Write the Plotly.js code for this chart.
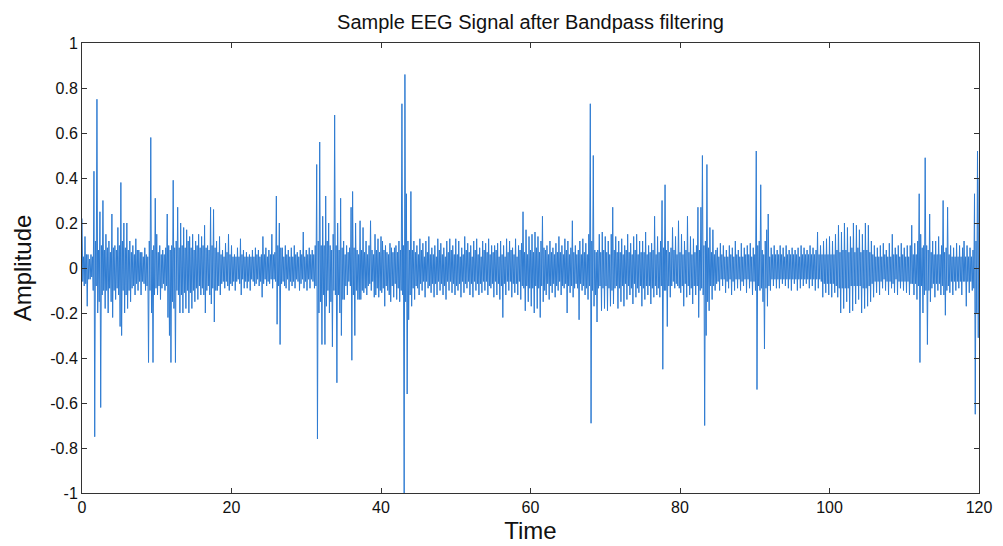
<!DOCTYPE html>
<html>
<head>
<meta charset="utf-8">
<script src="https://cdn.plot.ly/plotly-3.0.1.min.js"></script>
<style>html,body{margin:0;padding:0;background:#fff;}#chart{width:1003px;height:546px;}</style>
</head>
<body>
<div id="chart"></div>
<script>
// Sampling step of the read-off signal (seconds)
const sampleStep = 0.1;
// Amplitude, in hundredths, one row per second (10 samples per row)
const amplitudeHundredths = [
  22,-6,5,-8,14,-7,6,-17,6,-5,
  4,-5,6,-4,5,-10,43,-75,12,-8,
  75,-20,8,-15,25,-62,10,-12,30,-10,
  8,-18,15,-10,9,-20,12,-9,7,-15,
  24,-22,9,-10,10,-14,8,-9,18,-12,
  10,-26,38,-30,12,-10,20,-20,9,-12,
  20,-18,8,-10,12,-15,7,-9,10,-8,
  6,-12,13,-7,8,-10,8,-6,7,-12,
  7,-6,5,-7,9,-10,6,-8,5,-42,
  12,-10,58,-20,8,-42,10,-12,31,-9,
  15,-12,7,-8,10,-14,6,-9,8,-7,
  6,-10,9,-8,24,-22,10,-30,8,-42,
  10,-15,39,-18,9,-42,12,-10,27,-12,
  9,-20,20,-12,10,-20,18,-11,9,-18,
  17,-10,12,-20,14,-11,9,-18,15,-10,
  8,-15,12,-9,10,-14,15,-8,9,-12,
  14,-9,10,-12,19,-20,9,-10,10,-8,
  8,-12,27,-16,10,-9,26,-24,9,-10,
  12,-10,7,-8,14,-12,6,-7,8,-6,
  5,-9,11,-6,7,-8,15,-10,6,-7,
  10,-8,5,-6,6,-10,5,-6,9,-5,
  5,-7,13,-12,6,-5,8,-9,5,-6,
  7,-9,5,-6,6,-10,5,-5,8,-6,
  5,-8,9,-7,6,-5,8,-8,5,-6,
  6,-13,14,-7,6,-5,9,-8,5,-6,
  8,-7,6,-5,15,-9,6,-5,7,-6,
  32,-25,10,-8,20,-34,9,-7,9,-6,
  5,-8,10,-9,6,-5,8,-10,5,-6,
  9,-8,5,-6,10,-9,6,-5,7,-6,
  5,-10,8,-7,6,-5,16,-9,5,-6,
  8,-10,6,-5,9,-9,6,-5,8,-6,
  6,-9,10,-8,46,-76,12,-20,56,-15,
  10,-34,23,-12,10,-34,32,-17,12,-10,
  20,-20,10,-15,8,-35,15,-10,68,-12,
  10,-51,20,-12,8,-20,31,-30,9,-14,
  12,-14,6,-8,10,-12,7,-6,9,-8,
  27,-41,34,-12,9,-30,20,-10,8,-14,
  6,-14,21,-14,8,-10,18,-11,7,-9,
  12,-12,6,-8,10,-7,21,-10,8,-6,
  6,-13,15,-12,8,-9,13,-13,7,-10,
  14,-11,12,-9,8,-17,10,-8,7,-10,
  6,-12,11,-15,9,-8,7,-13,9,-7,
  10,-14,7,-9,12,-15,8,-10,73,-12,
  10,-105,86,-15,33,-56,12,-23,8,-12,
  34,-17,8,-9,12,-14,7,-8,10,-9,
  6,-12,13,-7,8,-10,11,-6,5,-13,
  12,-6,7,-9,14,-8,6,-11,9,-7,
  6,-13,10,-7,5,-12,13,-6,8,-10,
  11,-7,6,-12,9,-8,5,-14,12,-6,
  7,-10,13,-6,8,-11,10,-7,6,-12,
  13,-8,6,-10,12,-7,5,-13,9,-6,
  6,-11,14,-7,8,-9,11,-6,7,-12,
  10,-7,5,-13,12,-6,8,-10,13,-7,
  6,-12,9,-7,5,-11,12,-6,8,-10,
  11,-6,7,-12,13,-8,6,-9,10,-7,
  7,-13,10,-6,8,-12,11,-7,5,-14,
  12,-8,6,-22,10,-7,5,-12,13,-6,
  7,-10,12,-6,8,-13,9,-7,6,-11,
  13,-7,5,-12,10,-6,8,-14,11,-8,
  25,-9,7,-19,17,-8,6,-15,14,-9,
  8,-17,15,-9,7,-20,16,-8,9,-18,
  14,-9,7,-22,12,-8,23,-15,9,-10,
  8,-12,10,-7,6,-14,12,-8,7,-11,
  9,-7,6,-13,11,-8,7,-10,14,-6,
  7,-12,10,-8,6,-9,13,-7,8,-20,
  12,-8,6,-11,9,-8,21,-13,7,-9,
  10,-7,6,-9,8,-23,12,-7,6,-10,
  13,-8,7,-12,11,-9,6,-14,15,-8,
  73,-69,12,-10,50,-17,8,-12,7,-24,
  8,-9,15,-8,7,-19,16,-9,8,-18,
  14,-8,7,-19,12,-9,6,-17,15,-10,
  27,-16,8,-9,14,-8,7,-18,12,-9,
  7,-15,13,-8,6,-17,10,-7,8,-14,
  15,-8,7,-12,11,-9,6,-16,14,-7,
  8,-13,15,-9,6,-11,12,-8,7,-17,
  12,-9,7,-14,16,-8,6,-12,10,-8,
  7,-16,11,-9,8,-13,23,-8,6,-12,
  14,-9,7,-13,12,-8,30,-45,9,-10,
  37,-10,8,-26,12,-8,7,-13,9,-8,
  18,-6,8,-9,14,-7,6,-8,21,-9,
  7,-11,15,-8,6,-17,12,-7,8,-13,
  23,-8,7,-12,14,-9,6,-16,13,-8,
  7,-12,10,-8,27,-22,8,-10,27,-9,
  50,-12,10,-70,12,-30,46,-15,9,-19,
  18,-8,7,-14,17,-8,6,-10,8,-7,
  9,-6,5,-10,11,-5,6,-8,10,-5,
  5,-11,8,-6,5,-9,10,-5,6,-12,
  9,-6,5,-10,12,-5,6,-9,8,-5,
  5,-10,11,-6,5,-8,9,-5,6,-11,
  10,-5,6,-9,11,-6,5,-12,9,-6,
  6,-10,52,-54,10,-8,12,-10,37,-9,
  8,-15,6,-36,12,-9,17,-17,24,-8,
  5,-10,9,-5,6,-8,10,-5,6,-9,
  8,-5,6,-9,10,-5,6,-7,9,-5,
  5,-8,10,-5,6,-9,8,-5,6,-10,
  9,-5,6,-7,8,-5,6,-10,9,-5,
  5,-9,10,-5,6,-8,9,-5,6,-7,
  8,-5,6,-9,10,-5,6,-8,9,-5,
  6,-10,8,-5,16,-9,6,-5,10,-6,
  6,-13,12,-7,6,-11,13,-7,6,-12,
  14,-7,6,-13,12,-7,6,-11,15,-8,
  8,-13,19,-9,7,-20,16,-9,8,-18,
  20,-9,8,-15,18,-9,7,-20,14,-8,
  9,-19,20,-8,7,-16,19,-8,9,-14,
  17,-8,7,-20,15,-9,8,-18,20,-9,
  8,-17,19,-8,7,-15,12,-7,6,-13,
  10,-6,5,-11,9,-6,5,-12,10,-6,
  5,-9,11,-5,6,-10,8,-6,5,-12,
  11,-6,5,-9,15,-7,6,-11,9,-5,
  6,-12,10,-6,5,-9,11,-6,6,-10,
  9,-6,5,-11,10,-6,5,-12,10,-7,
  19,-7,6,-12,11,-7,6,-14,12,-8,
  33,-42,15,-8,9,-20,10,-12,49,-10,
  10,-34,8,-10,24,-15,7,-9,12,-7,
  6,-13,12,-7,6,-10,14,-7,6,-12,
  10,-8,30,-12,7,-21,9,-10,27,-8,
  6,-11,10,-6,5,-12,9,-6,5,-10,
  11,-6,5,-9,10,-6,5,-12,9,-6,
  12,-6,5,-17,10,-6,5,-11,9,-6,
  5,-10,8,-9,33,-65,12,-20,52,-31,
  40
];
const xTickVals = [0, 20, 40, 60, 80, 100, 120];
const xTickText = ["0", "20", "40", "60", "80", "100", "120"];
const yTickVals = [1, 0.8, 0.6, 0.4, 0.2, 0, -0.2, -0.4, -0.6, -0.8, -1];
const yTickText = ["1", "0.8", "0.6", "0.4", "0.2", "0", "-0.2", "-0.4", "-0.6", "-0.8", "-1"];
const chartTitle = "Sample EEG Signal after Bandpass filtering";
const xLabel = "Time";
const yLabel = "Amplitude";

const time = amplitudeHundredths.map((_, i) => +(i * sampleStep).toFixed(2));
const amplitude = amplitudeHundredths.map(v => v / 100);

const font = "Liberation Sans, Arial, Helvetica, sans-serif";
const axisCommon = {
  showline: true, mirror: "ticks", linecolor: "#333", linewidth: 1,
  ticks: "inside", ticklen: 5, tickcolor: "#333", tickwidth: 1,
  showgrid: false, zeroline: false,
  tickfont: {family: font, size: 16, color: "#111"}
};

Plotly.newPlot("chart", [{
  x: time, y: amplitude, type: "scatter", mode: "lines",
  line: {color: "#2f7cd2", width: 1}, hoverinfo: "skip"
}], {
  width: 1003, height: 546,
  margin: {l: 82, r: 24, t: 43, b: 53},
  paper_bgcolor: "#fff", plot_bgcolor: "#fff",
  showlegend: false,
  title: {text: chartTitle, font: {family: font, size: 20, color: "#111"}, x: 0.5, xref: "paper", xanchor: "center", y: 0.96, yanchor: "middle"},
  xaxis: Object.assign({}, axisCommon, {
    range: [0, 120], tickmode: "array", tickvals: xTickVals, ticktext: xTickText,
    title: {text: xLabel, font: {family: font, size: 24, color: "#111"}, standoff: 6}
  }),
  yaxis: Object.assign({}, axisCommon, {
    range: [-1, 1], tickmode: "array", tickvals: yTickVals, ticktext: yTickText,
    title: {text: yLabel, font: {family: font, size: 24, color: "#111"}, standoff: 11}
  })
}, {displayModeBar: false, staticPlot: true});
</script>
</body>
</html>
